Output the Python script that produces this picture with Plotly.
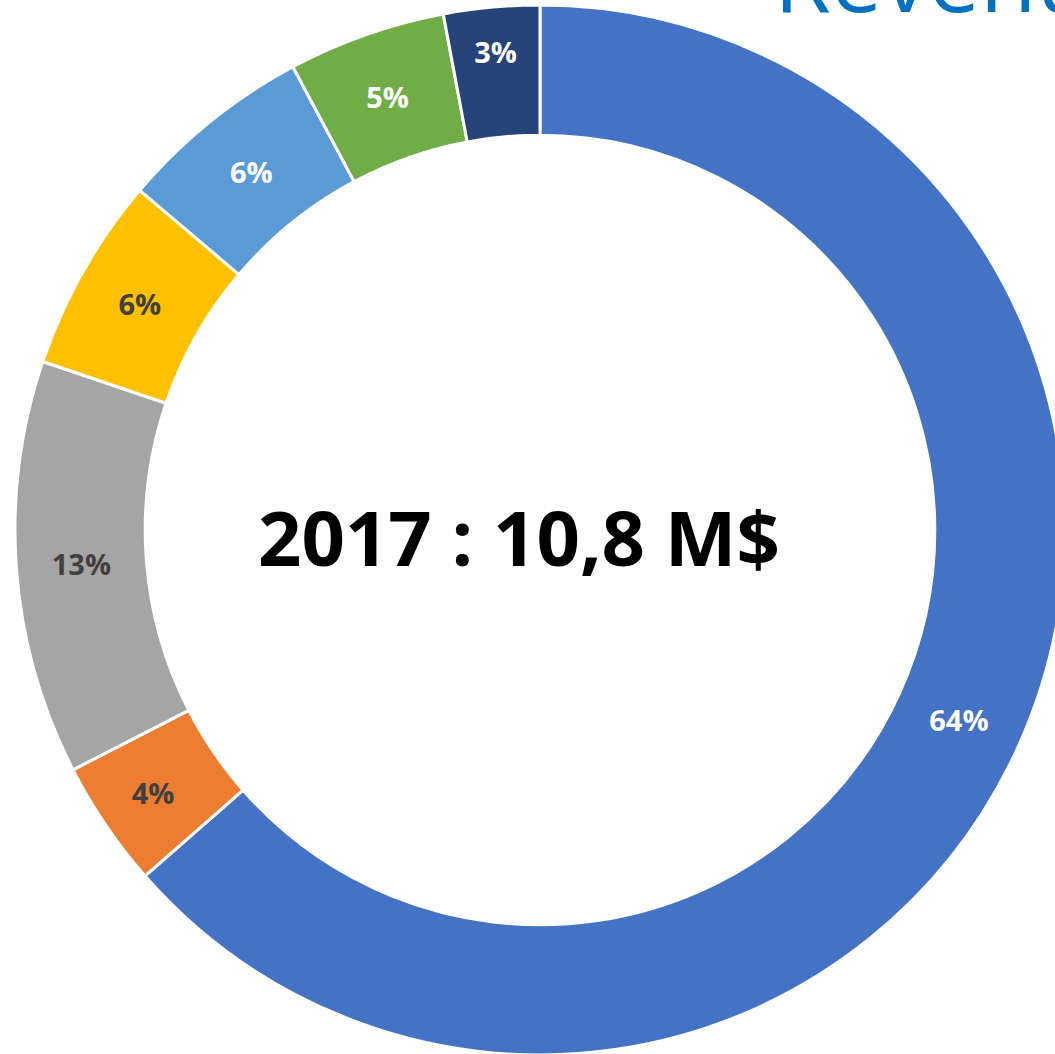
import plotly.graph_objects as go

categories = ["A", "B", "C", "D", "E", "F", "G"]
values = [63.55, 3.9, 12.75, 6.0, 6.0, 4.85, 2.95]
colors = ["#4472C4", "#ED7D31", "#A5A5A5", "#FFC000", "#5B9BD5", "#70AD47", "#264478"]
text_colors = ["#FFFFFF", "#404040", "#404040", "#404040", "#FFFFFF", "#FFFFFF", "#FFFFFF"]
center_text = "2017 : 10,8 M$"
title_text = "Revenus"

W, H = 1080, 1060

fig = go.Figure(go.Pie(
    labels=categories,
    values=values,
    hole=0.752,
    sort=False,
    direction="clockwise",
    rotation=0,
    marker=dict(colors=colors, line=dict(color="#FFFFFF", width=3)),
    texttemplate="%{percent:.0%}",
    textposition="inside",
    insidetextorientation="horizontal",
    textfont=dict(family="Open Sans", size=29, color=text_colors, weight="bold"),
    showlegend=False,
    domain=dict(x=[0, 1], y=[5 / H, 1055 / H]),
))

fig.add_annotation(
    text=center_text, xref="paper", yref="paper",
    x=519 / W, y=(H - 536) / H, xanchor="center", yanchor="middle",
    showarrow=False,
    font=dict(family="Open Sans", size=76, color="#000000", weight="bold"),
)
fig.add_annotation(
    text=title_text, xref="paper", yref="paper",
    x=772 / W, y=(H - 41) / H, xanchor="left", yanchor="bottom",
    showarrow=False,
    font=dict(family="Open Sans", size=92, color="#0070C0"),
)

fig.update_layout(
    width=W, height=H,
    margin=dict(l=0, r=0, t=0, b=0),
    paper_bgcolor="#FFFFFF", plot_bgcolor="#FFFFFF",
)

fig.write_html(
    "out.html",
    config={"displayModeBar": False},
    post_script="document.body.style.margin='0';document.body.style.overflow='hidden';",
)
